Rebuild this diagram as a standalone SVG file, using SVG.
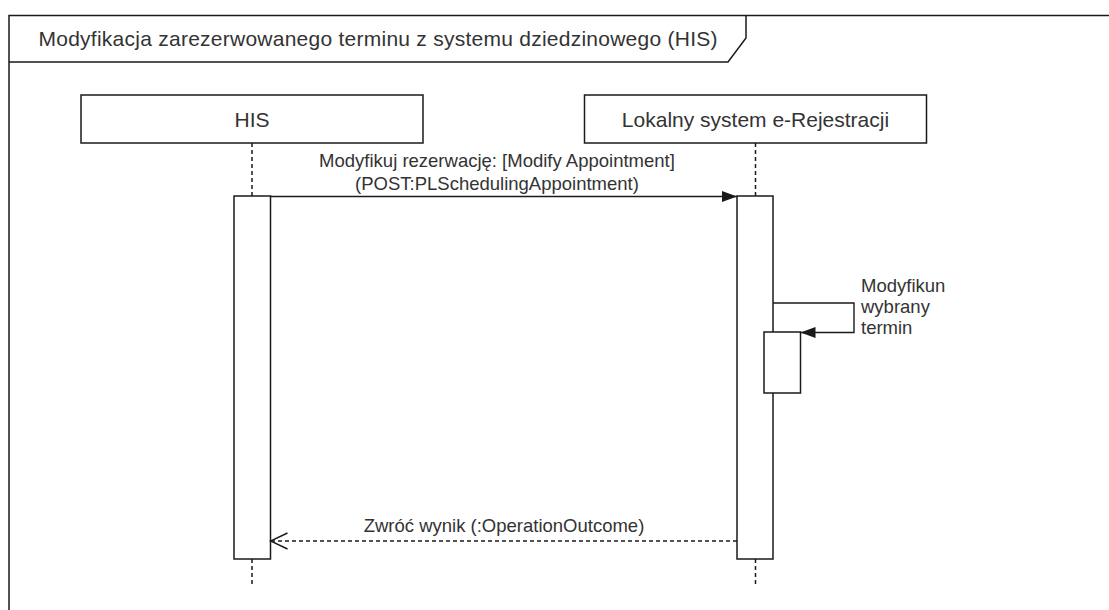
<svg xmlns="http://www.w3.org/2000/svg" width="1109" height="610" viewBox="0 0 1109 610">
<style>
.ln{fill:none;stroke:#1a1a1a;stroke-width:1.5}
.box{fill:#fff;stroke:#1a1a1a;stroke-width:1.5}
.life{fill:none;stroke:#1a1a1a;stroke-width:1.5;stroke-dasharray:4 3}
.t{font-family:"Liberation Sans",Arial,sans-serif;fill:#333}
.n{font-size:21px}
.e{font-size:18.5px}
.msg{fill:none;stroke:#1a1a1a;stroke-width:1.4}
.dash{stroke-dasharray:4 3}
</style>
<defs>
<marker id="block" markerWidth="16" markerHeight="12" refX="15" refY="6" orient="auto" markerUnits="userSpaceOnUse">
<path d="M0,0.5 L15,6 L0,11.5 Z" fill="#1a1a1a"/>
</marker>
<marker id="open" markerWidth="20" markerHeight="20" refX="18" refY="9" orient="auto" markerUnits="userSpaceOnUse">
<path d="M1,1 L18,9 L1,17" fill="none" stroke="#1a1a1a" stroke-width="1.4"/>
</marker>
</defs>
<rect x="0" y="0" width="1109" height="610" fill="#fff"/>
<g id="frame">
<path class="ln" d="M9,612 L9,15.5 L1112,15.5"/>
<path class="ln" d="M9,62 L728,62 L746,38 L746,15.5"/>
<text class="t n" x="378" y="46" text-anchor="middle" textLength="679" lengthAdjust="spacing">Modyfikacja zarezerwowanego terminu z systemu dziedzinowego (HIS)</text>
</g>
<g id="his">
<rect class="box" x="81" y="95" width="342" height="48"/>
<text class="t n" x="252" y="126.5" text-anchor="middle">HIS</text>
<line class="life" x1="252" y1="143" x2="252" y2="196"/>
<line class="life" x1="252" y1="559" x2="252" y2="587"/>
<rect class="box" x="234" y="196" width="36.5" height="363"/>
</g>
<g id="lokalny">
<rect class="box" x="584.5" y="95" width="342" height="48"/>
<text class="t n" x="755.5" y="126.5" text-anchor="middle">Lokalny system e-Rejestracji</text>
<line class="life" x1="755.5" y1="143" x2="755.5" y2="196"/>
<line class="life" x1="755.5" y1="559" x2="755.5" y2="587"/>
<rect class="box" x="737" y="196" width="36" height="363"/>
<rect id="self-activation" class="box" x="764" y="332" width="36.5" height="61"/>
</g>
<g id="connectors">
<line class="msg" x1="270.5" y1="196.5" x2="737" y2="196.5" marker-end="url(#block)"/>
<text class="t e" x="497" y="167" text-anchor="middle">Modyfikuj rezerwację: [Modify Appointment]</text>
<text class="t e" x="497" y="189.5" text-anchor="middle">(POST:PLSchedulingAppointment)</text>
<path class="msg" d="M773,303 L854,303 L854,332.5 L800.5,332.5" marker-end="url(#block)"/>
<text class="t e" x="861" y="292">Modyfikun</text>
<text class="t e" x="861" y="313">wybrany</text>
<text class="t e" x="861" y="334">termin</text>
<line class="msg dash" x1="737" y1="541" x2="270.5" y2="541" marker-end="url(#open)"/>
<text class="t e" x="504" y="532" text-anchor="middle">Zwróć wynik (:OperationOutcome)</text>
</g>
</svg>
